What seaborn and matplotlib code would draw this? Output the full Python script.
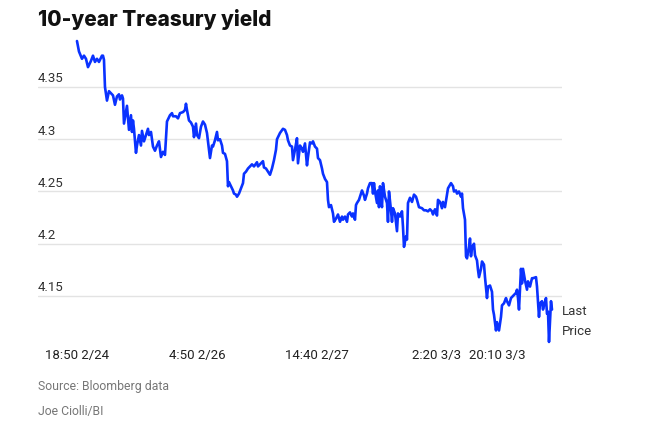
import matplotlib
matplotlib.use("Agg")
import matplotlib.pyplot as plt
import seaborn as sns
import pandas as pd

# observation index (intraday bars) and 10-year yield (%)
t = [0, 2, 5, 7, 9, 11, 14, 16, 18, 20, 22, 25, 26, 27, 28, 30, 32, 34, 36, 38,
     40, 42, 43, 45, 46, 47, 49, 50, 52, 54, 55, 56, 57, 59, 60, 62, 64, 65, 67, 69,
     71, 72, 74, 76, 78, 80, 82, 84, 86, 88, 90, 93, 95, 96, 99, 101, 103, 106, 108, 109,
     110, 112, 114, 116, 117, 119, 120, 122, 124, 126, 128, 130, 131, 133, 135, 136, 138, 140, 141, 143,
     145, 146, 148, 150, 151, 152, 154, 156, 157, 159, 160, 162, 164, 166, 167, 169, 171, 173, 175, 177,
     180, 181, 184, 186, 187, 189, 191, 193, 195, 197, 199, 200, 203, 206, 208, 210, 211, 213, 215, 216,
     218, 220, 221, 223, 225, 226, 228, 230, 231, 233, 235, 236, 238, 240, 241, 243, 245, 246, 248, 250,
     251, 252, 254, 256, 257, 259, 261, 263, 265, 266, 268, 270, 271, 273, 275, 276, 278, 279, 280, 282,
     284, 285, 287, 288, 290, 291, 293, 295, 296, 297, 298, 300, 301, 302, 303, 304, 305, 306, 308, 310,
     311, 312, 314, 315, 316, 318, 320, 321, 323, 325, 326, 327, 329, 330, 331, 333, 335, 337, 339, 340,
     342, 345, 347, 349, 351, 353, 355, 356, 358, 360, 361, 363, 365, 366, 368, 370, 371, 374, 376, 377,
     379, 380, 382, 384, 385, 386, 388, 389, 390, 392, 393, 394, 395, 397, 398, 400, 401, 402, 404, 405,
     407, 408, 410, 411, 413, 415, 416, 417, 419, 420, 422, 424, 425, 427, 429, 430, 432, 434, 435, 437,
     439, 440, 441, 442, 444, 445, 446, 448, 450, 451, 453, 455, 456, 459, 460, 462, 463, 465, 466, 467,
     469, 470, 471, 472, 474, 475]

yld = [4.394, 4.384, 4.377, 4.380, 4.377, 4.369, 4.375, 4.380, 4.374, 4.377, 4.374, 4.380, 4.380, 4.376, 4.350, 4.337, 4.346, 4.344, 4.342, 4.333,
       4.341, 4.343, 4.338, 4.342, 4.339, 4.315, 4.326, 4.332, 4.309, 4.323, 4.307, 4.318, 4.310, 4.287, 4.294, 4.304, 4.294, 4.308, 4.298, 4.304,
       4.310, 4.304, 4.307, 4.293, 4.289, 4.294, 4.298, 4.283, 4.288, 4.285, 4.317, 4.323, 4.325, 4.322, 4.322, 4.320, 4.325, 4.326, 4.328, 4.334,
       4.328, 4.318, 4.316, 4.312, 4.302, 4.315, 4.304, 4.301, 4.312, 4.317, 4.314, 4.306, 4.298, 4.282, 4.294, 4.293, 4.299, 4.307, 4.299, 4.300,
       4.294, 4.287, 4.286, 4.279, 4.255, 4.259, 4.255, 4.251, 4.248, 4.247, 4.245, 4.248, 4.253, 4.258, 4.267, 4.269, 4.272, 4.274, 4.276, 4.274,
       4.278, 4.274, 4.277, 4.279, 4.273, 4.272, 4.269, 4.266, 4.272, 4.280, 4.290, 4.300, 4.306, 4.310, 4.309, 4.304, 4.299, 4.294, 4.293, 4.280,
       4.290, 4.301, 4.277, 4.294, 4.291, 4.288, 4.296, 4.275, 4.283, 4.297, 4.296, 4.298, 4.293, 4.291, 4.282, 4.280, 4.272, 4.267, 4.262, 4.259,
       4.242, 4.235, 4.237, 4.229, 4.221, 4.224, 4.228, 4.221, 4.226, 4.223, 4.226, 4.221, 4.228, 4.230, 4.226, 4.229, 4.223, 4.237, 4.239, 4.242,
       4.248, 4.251, 4.246, 4.242, 4.248, 4.253, 4.258, 4.258, 4.248, 4.258, 4.250, 4.239, 4.251, 4.235, 4.255, 4.242, 4.235, 4.258, 4.245, 4.239,
       4.221, 4.250, 4.232, 4.221, 4.234, 4.229, 4.212, 4.229, 4.226, 4.231, 4.216, 4.197, 4.207, 4.204, 4.239, 4.244, 4.240, 4.247, 4.245, 4.242,
       4.235, 4.234, 4.232, 4.232, 4.231, 4.233, 4.231, 4.228, 4.233, 4.227, 4.242, 4.240, 4.234, 4.240, 4.235, 4.247, 4.253, 4.258, 4.255, 4.250,
       4.251, 4.248, 4.250, 4.245, 4.248, 4.234, 4.223, 4.188, 4.186, 4.197, 4.205, 4.188, 4.196, 4.200, 4.189, 4.184, 4.175, 4.168, 4.176, 4.183,
       4.180, 4.168, 4.148, 4.159, 4.160, 4.154, 4.137, 4.132, 4.117, 4.125, 4.117, 4.130, 4.141, 4.143, 4.148, 4.145, 4.141, 4.148, 4.149, 4.151,
       4.153, 4.156, 4.148, 4.137, 4.176, 4.162, 4.176, 4.165, 4.156, 4.164, 4.159, 4.167, 4.167, 4.168, 4.159, 4.130, 4.143, 4.145, 4.137, 4.141,
       4.148, 4.133, 4.135, 4.106, 4.145, 4.137]

y_ticks = [4.15, 4.2, 4.25, 4.3, 4.35]
y_tick_labels = ["4.15", "4.2", "4.25", "4.3", "4.35"]
x_ticks = [0, 120, 240, 360, 420]
x_tick_labels = ["18:50 2/24", "4:50 2/26", "14:40 2/27", "2:20 3/3", "20:10 3/3"]

title = "10-year Treasury yield"
source = "Source: Bloomberg data"
credit = "Joe Ciolli/BI"
last_label = "Last\nPrice"

sns.set_theme(style="white")
plt.rcParams["font.family"] = ["Roboto", "DejaVu Sans"]

df = pd.DataFrame({"t": t, "yield": yld})

fig = plt.figure(figsize=(6.57, 4.23), dpi=100)
ax = fig.add_axes([0.0578, 0.1842, 0.7976, 0.7262])

sns.lineplot(data=df, x="t", y="yield", ax=ax, color="#0a32ff", linewidth=1.9)

ax.set_xlim(-39, 485)
ax.set_ylim(4.103, 4.397)

for v in y_ticks:
    ax.axhline(v, color="#e3e3e3", linewidth=1.0, zorder=0)
ax.set_yticks([])
for v, lab in zip(y_ticks, y_tick_labels):
    ax.text(0, v + 0.0015, lab, transform=ax.get_yaxis_transform(), ha="left", va="bottom",
            fontsize=9.5, color="#333333")

ax.set_xticks(x_ticks)
ax.set_xticklabels(x_tick_labels, fontsize=9.5, color="#222222")
ax.tick_params(axis="x", length=0, pad=3)
ax.set_xlabel("")
ax.set_ylabel("")
for s in ax.spines.values():
    s.set_visible(False)

ax.text(1.0, 4.1255, last_label, transform=ax.get_yaxis_transform(),
        ha="left", va="center", fontsize=9.5, color="#333333", linespacing=1.7)

fig.text(38 / 657, 1 - 20 / 423, title, ha="left", va="center", fontsize=15,
         fontweight="heavy", color="#111111", family=["Inter", "DejaVu Sans"])
fig.text(38 / 657, 1 - 386 / 423, source, ha="left", va="center", fontsize=8.8, color="#777777")
fig.text(38 / 657, 1 - 411 / 423, credit, ha="left", va="center", fontsize=8.8, color="#777777")

fig.savefig("out.png", dpi=100)
